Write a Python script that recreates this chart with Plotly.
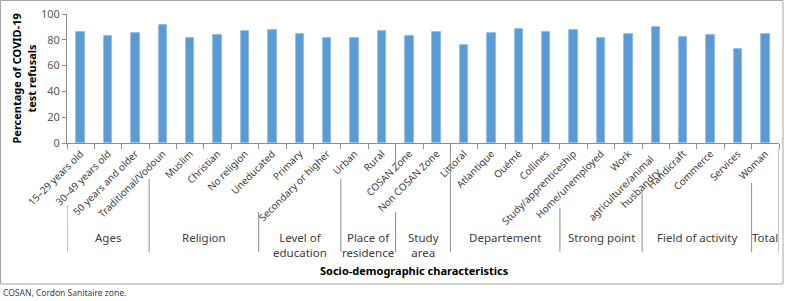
import plotly.graph_objects as go

# ---- data ----
categories = [
    "15–29 years old", "30–49 years old", "50 years and older",
    "Traditional/Vodoun", "Muslim", "Christian", "No religion",
    "Uneducated", "Primary", "Secondary or higher",
    "Urban", "Rural",
    "COSAN Zone", "Non COSAN Zone",
    "Littoral", "Atlantique", "Ouémé", "Collines",
    "Study/apprenticeship", "Home/unemployed", "Work",
    "agriculture/animal husbandry", "Handicraft", "Commerce", "Services",
    "Woman",
]
values = [
    85.8, 83.0, 85.3,
    91.7, 81.4, 84.0, 86.9,
    87.4, 84.8, 81.2,
    81.7, 86.6,
    83.2, 85.8,
    76.3, 85.3, 88.2, 85.8,
    87.4, 81.4, 84.5,
    89.9, 82.4, 84.0, 72.9,
    84.5,
]
group_names = ["Ages", "Religion", "Level of<br>education", "Place of<br>residence",
               "Study<br>area", "Departement", "Strong point", "Field of activity", "Total"]
group_sizes = [3, 4, 3, 2, 2, 4, 3, 4, 1]
y_ticks = [0, 20, 40, 60, 80, 100]

# ---- layout geometry (pixels) ----
W, H = 788, 301
L, R, T, B = 67, 9, 14, 158
PW, PH = W - L - R, H - T - B

def px_x(p):
    return (p - L) / PW

def px_y(p):
    return (H - B - p) / PH

# starting pixel of each group separator line (below category labels)
sep_starts = [205, 179, 212, 179, (148, 172, 212), 148, 208, 190, 183, 148]
sep_bottom = 252

# the two-line label is drawn manually (lines placed like the original)
wrap_label = "agriculture/animal husbandry"
wrap_lines = [("agriculture/animal", 659, 149), ("husbandry", 666, 162)]
tick_text = ["" if c == wrap_label else c for c in categories]

font_main = "Noto Sans, Open Sans, sans-serif"

fig = go.Figure()
fig.add_trace(go.Bar(
    x=categories, y=values, width=0.31,
    marker=dict(color="#5B9BD5", line=dict(color="#8DB8E2", width=0.8)),
    hoverinfo="x+y",
))

shapes = []
annotations = []
bounds = [-0.5]
for s in group_sizes:
    bounds.append(bounds[-1] + s)
for i, b in enumerate(bounds):
    st = sep_starts[i]
    if isinstance(st, tuple):
        segs = [(st[0], st[1]), (st[2], sep_bottom)]
    else:
        segs = [(st, sep_bottom)]
    for a, z in segs:
        shapes.append(dict(type="line", xref="x", yref="paper", x0=b, x1=b,
                           y0=px_y(a), y1=px_y(z),
                           line=dict(color="#8C8C8C", width=1)))
for i, g in enumerate(group_names):
    cx = (bounds[i] + bounds[i + 1]) / 2
    annotations.append(dict(x=cx, xref="x", y=px_y(228), yref="paper",
                            text=g, showarrow=False, yanchor="top", xanchor="center",
                            font=dict(size=11.5, color="#404040", family=font_main)))

for txt, xp, yp in wrap_lines:
    annotations.append(dict(x=px_x(xp), xref="paper", y=px_y(yp), yref="paper",
                            text=txt, textangle=-45, showarrow=False,
                            xanchor="right", yanchor="top",
                            font=dict(size=10, color="#404040", family=font_main)))

# outer border
shapes.append(dict(type="rect", xref="paper", yref="paper",
                   x0=px_x(0.5), x1=px_x(783), y0=px_y(0.5), y1=px_y(284),
                   line=dict(color="#A6A6A6", width=1), fillcolor="rgba(0,0,0,0)"))

# axis titles and footnote
for txt, xp in [("<b>Percentage of COVID-19</b>", 16), ("<b>test refusals</b>", 31)]:
    annotations.append(dict(x=px_x(xp), xref="paper", y=0.5, yref="paper",
                            text=txt, textangle=-90,
                            showarrow=False, xanchor="center", yanchor="middle",
                            font=dict(size=11, color="#000000", family=font_main)))
annotations.append(dict(x=px_x(414), xref="paper", y=px_y(270), yref="paper",
                        text="<b>Socio-demographic characteristics</b>",
                        showarrow=False, xanchor="center", yanchor="middle",
                        font=dict(size=11, color="#000000", family=font_main)))
annotations.append(dict(x=px_x(1), xref="paper", y=px_y(292), yref="paper",
                        text="COSAN, Cordon Sanitaire zone.",
                        showarrow=False, xanchor="left", yanchor="middle",
                        font=dict(size=8.5, color="#404040", family=font_main)))

fig.update_layout(
    width=W, height=H,
    margin=dict(l=L, r=R, t=T, b=B, autoexpand=False),
    paper_bgcolor="white", plot_bgcolor="white",
    showlegend=False, bargap=0,
    font=dict(family=font_main, color="#404040"),
    xaxis=dict(type="category", tickson="boundaries", ticks="outside", ticklen=5,
               tickcolor="#8C8C8C", showline=True, linecolor="#8C8C8C", linewidth=1,
               tickangle=-45, tickfont=dict(size=10, color="#404040"),
               tickmode="array", tickvals=categories, ticktext=tick_text,
               range=[-0.5, 25.5], showgrid=False, automargin=False),
    yaxis=dict(range=[0, 100], tickvals=y_ticks, ticks="outside", ticklen=4,
               tickcolor="#8C8C8C", showline=True, linecolor="#8C8C8C", linewidth=1,
               showgrid=False, zeroline=False, tickfont=dict(size=11, color="#595959"),
               automargin=False),
    shapes=shapes, annotations=annotations,
)

fig.write_html("out.html")
